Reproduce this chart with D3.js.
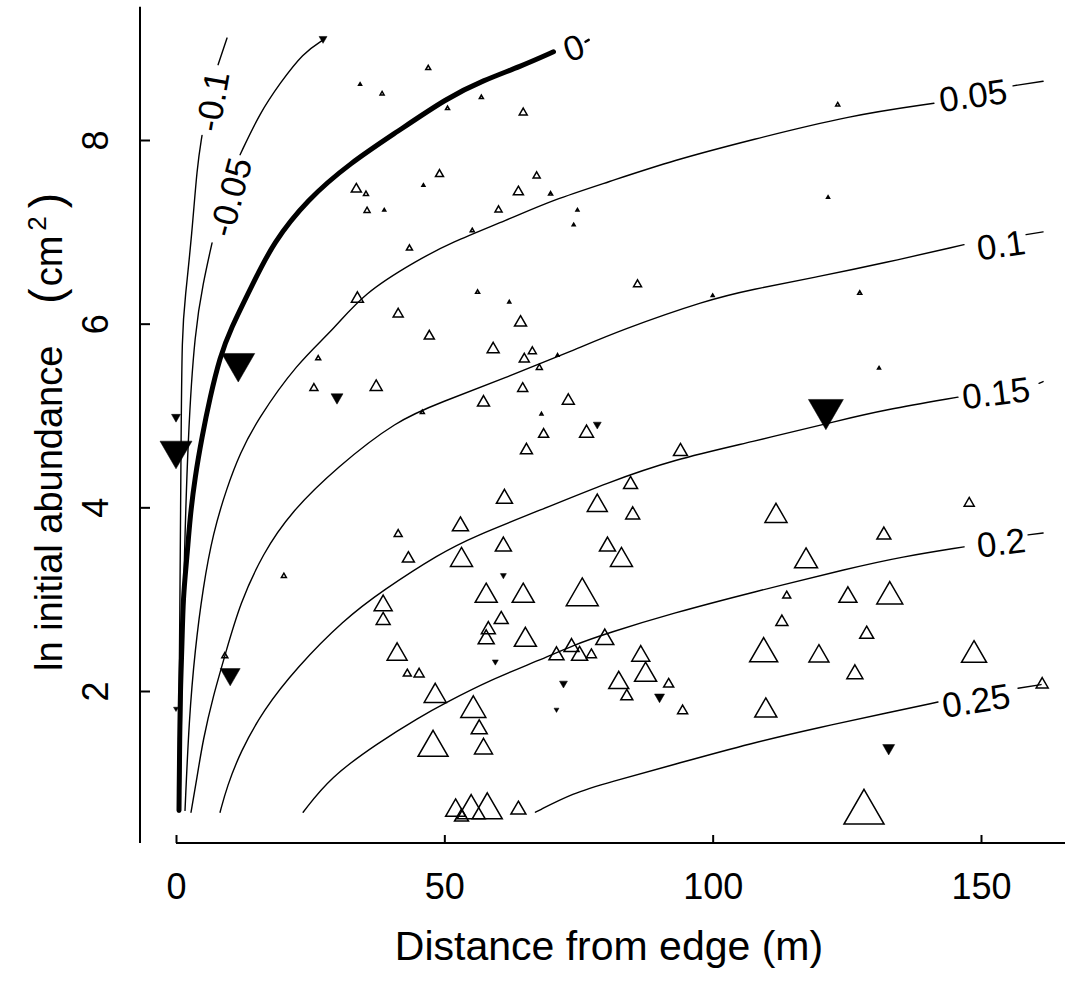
<!DOCTYPE html>
<html>
<head>
<meta charset="utf-8">
<script src="https://cdn.jsdelivr.net/npm/d3@7"></script>
<style>
  body { margin: 0; background: #fff; }
  text { font-family: "Liberation Sans", Arial, sans-serif; fill: #000; }
</style>
</head>
<body>
<div id="chart"></div>
<script>
// ---- data ----
const xTicks = [0, 50, 100, 150];
const yTicks = [2, 4, 6, 8];
const xLimit = [0, 166];      // x axis line runs from 0 to the right edge
const yLimit = [0.345, 9.45]; // y axis line extent

// contour lines of predicted growth rate, each a list of segments of [distance, ln abundance]
const contourLevels = ["-0.1", "-0.05", "0", "0.05", "0.1", "0.15", "0.2", "0.25"];
const contourMinus010 = [
  [[9.51, 9.11], [7.84, 8.82]],
  [[4.85, 8.05], [3.92, 7.71], [2.99, 6.99], [1.68, 6.26], [1.12, 5.93], [0.93, 4.63], [0.75, 3.00], [0.37, 0.70]]
];
const contourMinus005 = [
  [[27.43, 9.09], [23.69, 8.95], [19.40, 8.62], [15.67, 8.30], [11.94, 7.84]],
  [[6.72, 6.88], [5.04, 6.44], [3.54, 5.93], [2.24, 4.84], [1.31, 3.02], [0.75, 0.70]]
];
const contourZero = [
  [[0.56, 0.70], [0.75, 1.94], [1.12, 2.48], [1.31, 3.02], [2.05, 3.46], [2.61, 3.89], [3.54, 4.33],
   [4.85, 4.77], [6.34, 5.20], [8.21, 5.64], [10.07, 5.93], [14.37, 6.44], [18.10, 6.88], [24.44, 7.35],
   [32.46, 7.75], [41.23, 8.09], [50.56, 8.46], [57.28, 8.65], [64.18, 8.80], [70.34, 8.96]],
  [[76.3, 9.07], [76.9, 9.09]]
];
const contour005 = [
  [[155.97, 8.59], [161.57, 8.64]],
  [[141.23, 8.40], [125.75, 8.27], [107.09, 8.00], [92.72, 7.78], [80.41, 7.54], [70.34, 7.35],
   [61.75, 7.13], [51.12, 6.88], [44.96, 6.69], [34.89, 6.33], [29.29, 5.93], [22.57, 5.57],
   [15.11, 4.95], [11.94, 4.59], [9.51, 4.22], [6.90, 3.72], [5.04, 3.13], [3.54, 2.45], [2.43, 1.69], [1.68, 0.70]]
];
const contour010 = [
  [[158.40, 6.97], [161.57, 7.00]],
  [[146.83, 6.86], [131.90, 6.66], [119.59, 6.51], [107.09, 6.37], [99.07, 6.26], [82.84, 5.93],
   [74.07, 5.71], [61.75, 5.42], [49.25, 5.14], [41.23, 4.95], [30.04, 4.44], [21.27, 3.94],
   [16.23, 3.50], [11.94, 2.96], [9.14, 2.39], [6.90, 1.94], [5.04, 1.47], [3.92, 1.06], [2.80, 0.68]]
];
const contour015 = [
  [[160.82, 5.35], [161.57, 5.37]],
  [[145.71, 5.20], [131.90, 5.06], [123.88, 4.95], [107.09, 4.71], [92.72, 4.52], [80.41, 4.27],
   [67.91, 3.97], [55.41, 3.68], [49.25, 3.50], [38.62, 3.10], [31.16, 2.77], [22.57, 2.26],
   [16.23, 1.79], [11.94, 1.33], [9.51, 0.96], [8.21, 0.68]]
];
const contour020 = [
  [[158.77, 3.70], [161.57, 3.72]],
  [[146.83, 3.57], [135.07, 3.46], [125.75, 3.34], [107.09, 3.07], [92.72, 2.85], [80.41, 2.63],
   [74.07, 2.50], [67.91, 2.34], [58.58, 2.12], [50.19, 1.87], [45.52, 1.72], [37.50, 1.43],
   [28.73, 1.06], [23.69, 0.68]]
];
const contour025 = [
  [[156.90, 2.03], [161.19, 2.07]],
  [[141.98, 1.88], [133.21, 1.77], [119.59, 1.60], [107.09, 1.43], [94.03, 1.22], [80.41, 1.00],
   [74.07, 0.89], [66.98, 0.68]]
];
const contourLines = [contourMinus010, contourMinus005, contourZero, contour005,
                      contour010, contour015, contour020, contour025];
// where each contour label sits, [distance, ln abundance]
const labelAnchors = [[6.72, 8.42], [10.07, 7.38], [74.07, 9.01], [148.51, 8.49],
                      [153.73, 6.86], [152.80, 5.25], [153.73, 3.62], [149.07, 1.90]];

// plots: distance from edge (m), ln initial abundance, observed growth rate
// negative rates are drawn as filled down triangles, positive as open up triangles
const distance = [
  27.4, 11.6, 0.0, 0.0, 30.0, 10.1, 0.0, 78.5, 61.0, 59.5, 72.2, 90.1, 70.9, 121.1, 132.8,
  47.0, 34.3, 38.4, 50.6, 56.9, 64.7, 49.1, 46.1, 33.6, 35.4, 35.6, 38.8, 43.5, 67.2, 63.8,
  69.8, 60.1, 74.8, 74.1, 55.2, 86.0, 56.2, 62.1, 64.2, 33.8, 41.4, 100.0, 123.3, 121.5, 127.4,
  131.0, 26.5, 25.7, 37.3, 47.2, 45.9, 41.4, 43.3, 20.1, 38.6, 38.6, 41.2, 9.1, 43.1, 45.3,
  48.3, 47.9, 59.1, 66.4, 64.9, 71.1, 67.7, 64.6, 57.3, 73.1, 68.1, 68.5, 76.5, 65.3, 94.0,
  84.7, 61.2, 78.5, 85.1, 53.0, 61.0, 80.4, 53.2, 83.0, 57.8, 64.7, 75.7, 60.6, 58.2, 57.8,
  65.1, 70.9, 73.7, 75.2, 77.4, 79.9, 86.6, 87.5, 82.5, 84.0, 91.8, 94.4, 55.4, 56.5, 57.3,
  52.1, 53.2, 55.0, 58.0, 63.8, 111.8, 147.8, 131.9, 117.4, 113.8, 125.2, 133.0, 112.9, 128.7,
  109.5, 119.8, 148.7, 126.5, 109.9, 161.4, 128.2
];
const lnAbundance = [
  9.09, 5.52, 4.97, 4.57, 5.18, 2.15, 1.80, 4.89, 3.25, 2.31, 2.07, 1.92, 1.79, 5.01, 1.36,
  8.79, 8.61, 8.51, 8.35, 8.47, 8.31, 7.64, 7.51, 7.48, 7.42, 7.24, 7.24, 6.83, 7.62, 7.45,
  7.42, 7.25, 7.24, 7.08, 7.02, 6.44, 6.35, 6.24, 6.03, 6.29, 6.12, 6.31, 8.39, 7.38, 6.34,
  5.52, 5.63, 5.31, 5.33, 5.88, 5.04, 3.72, 3.46, 3.26, 2.96, 2.79, 2.43, 2.39, 2.20, 2.20,
  1.98, 1.43, 5.74, 5.71, 5.63, 5.66, 5.53, 5.31, 5.16, 5.18, 5.02, 4.81, 4.83, 4.64, 4.63,
  4.27, 4.12, 4.05, 3.94, 3.82, 3.60, 3.60, 3.46, 3.46, 3.07, 3.07, 3.08, 2.80, 2.69, 2.59,
  2.59, 2.41, 2.50, 2.41, 2.41, 2.59, 2.41, 2.21, 2.12, 1.96, 2.09, 1.80, 1.83, 1.61, 1.40,
  0.73, 0.65, 0.74, 0.75, 0.73, 3.94, 4.06, 3.72, 3.45, 3.05, 3.05, 3.07, 2.77, 2.64,
  2.45, 2.41, 2.43, 2.21, 1.82, 2.09, 0.74
];
const growthRate = [
  -0.053, -0.22, -0.06, -0.213, -0.08, -0.133, -0.033, -0.053, -0.04, -0.04, -0.053, -0.067, -0.033, -0.233, -0.08,
  0.033, 0.02, 0.027, 0.027, 0.027, 0.053, 0.053, 0.02, 0.067, 0.033, 0.04, 0.02, 0.04, 0.047, 0.067,
  0.027, 0.047, 0.02, 0.02, 0.027, 0.053, 0.027, 0.02, 0.08, 0.08, 0.067, 0.02, 0.027, 0.02, 0.027,
  0.02, 0.033, 0.053, 0.08, 0.067, 0.027, 0.053, 0.08, 0.033, 0.12, 0.093, 0.133, 0.04, 0.053, 0.067,
  0.147, 0.2, 0.08, 0.053, 0.067, 0.02, 0.04, 0.067, 0.08, 0.08, 0.02, 0.067, 0.093, 0.08, 0.093,
  0.093, 0.107, 0.133, 0.093, 0.107, 0.107, 0.107, 0.147, 0.147, 0.147, 0.147, 0.213, 0.093, 0.093, 0.107,
  0.147, 0.1, 0.1, 0.107, 0.067, 0.12, 0.12, 0.147, 0.133, 0.08, 0.067, 0.067, 0.167, 0.107, 0.12,
  0.133, 0.093, 0.187, 0.2, 0.1, 0.147, 0.067, 0.093, 0.153, 0.053, 0.12, 0.173, 0.08, 0.093,
  0.187, 0.133, 0.167, 0.107, 0.147, 0.08, 0.267
];

// ---- drawing ----
const width = 1065, height = 981;
const svg = d3.select("#chart").append("svg")
  .attr("width", width)
  .attr("height", height);

const x = d3.scaleLinear().domain([0, 150]).range([176, 981]);
const y = d3.scaleLinear().domain([2, 8]).range([691, 140]);
const markSize = d3.scaleLinear().domain([0, 0.3]).range([0, 45]); // side of triangle

const xAxisY = 843, yAxisX = 140;
const fontFamily = "'Liberation Sans', Arial, sans-serif";

// contour lines
const line = d3.line()
  .x(d => x(d[0]))
  .y(d => y(d[1]))
  .curve(d3.curveBasis);

contourLines.forEach((segs, i) => {
  segs.forEach((seg, j) => {
    const thick = contourLevels[i] === "0" && j === 0;
    svg.append("path")
      .attr("d", line(seg))
      .attr("fill", "none")
      .attr("stroke", "#000")
      .attr("stroke-width", thick ? 5 : (contourLevels[i] === "0" ? 2.5 : 1.4))
      .attr("stroke-linecap", "round");
  });
});

// contour labels
const labelAngle = [-80, -75, -20, -8, -8, -7, -7, -9];
svg.selectAll(".contour-label")
  .data(labelAnchors)
  .enter().append("text")
  .attr("class", "contour-label")
  .attr("transform", (d, i) => `translate(${x(d[0])},${y(d[1])}) rotate(${labelAngle[i]})`)
  .attr("text-anchor", "middle")
  .attr("dy", "0.36em")
  .style("font-size", "35px")
  .text((d, i) => contourLevels[i]);

// plots as triangles
function triangle(s, up) {
  const h = s * 0.866;
  return up
    ? `M0,${-h / 2}L${s / 2},${h / 2}L${-s / 2},${h / 2}Z`
    : `M0,${h / 2}L${s / 2},${-h / 2}L${-s / 2},${-h / 2}Z`;
}

const plots = distance.map((d, i) => ({ x: d, y: lnAbundance[i], r: growthRate[i] }));
svg.selectAll(".plot")
  .data(plots)
  .enter().append("path")
  .attr("class", "plot")
  .attr("transform", d => `translate(${x(d.x)},${y(d.y)})`)
  .attr("d", d => triangle(markSize(Math.abs(d.r)), d.r > 0))
  .attr("fill", d => d.r > 0 ? "none" : "#000")
  .attr("stroke", "#000")
  .attr("stroke-width", d => d.r > 0 ? 1.5 : 0.5)
  .attr("stroke-linejoin", "miter");

// x axis
const xAxis = svg.append("g")
  .attr("transform", `translate(0,${xAxisY})`)
  .call(d3.axisBottom(x).tickValues(xTicks).tickSizeInner(-8).tickSizeOuter(0).tickFormat(d3.format("d")));
xAxis.select(".domain").remove();
xAxis.append("line")
  .attr("x1", x(xLimit[0])).attr("x2", x(xLimit[1]))
  .attr("stroke", "#000").attr("stroke-width", 2);
xAxis.selectAll(".tick line").attr("stroke", "#000").attr("stroke-width", 2);
xAxis.selectAll(".tick text")
  .attr("y", 56).attr("dy", null)
  .style("font-size", "36px")
  .style("font-family", fontFamily)
  .style("fill", "#000");

// y axis
const yAxis = svg.append("g")
  .attr("transform", `translate(${yAxisX},0)`)
  .call(d3.axisLeft(y).tickValues(yTicks).tickSizeInner(-10).tickSizeOuter(0).tickFormat(d3.format("d")));
yAxis.select(".domain").remove();
yAxis.append("line")
  .attr("y1", y(yLimit[0])).attr("y2", y(yLimit[1]))
  .attr("stroke", "#000").attr("stroke-width", 2);
yAxis.selectAll(".tick line").attr("stroke", "#000").attr("stroke-width", 2);
yAxis.selectAll(".tick text")
  .attr("x", 0).attr("dy", null)
  .attr("transform", "translate(-32,0) rotate(-90)")
  .attr("text-anchor", "middle")
  .style("font-size", "36px")
  .style("font-family", fontFamily)
  .style("fill", "#000");

// axis titles
svg.append("text")
  .attr("x", 609)
  .attr("y", 960)
  .attr("text-anchor", "middle")
  .style("font-size", "41px")
  .text("Distance from edge (m)");

const yTitle = svg.append("text")
  .attr("transform", "translate(62,671) rotate(-90)")
  .style("font-size", "38px");
yTitle.append("tspan").text("ln initial abundance");
yTitle.append("tspan").attr("dx", 42).style("font-size", "46px").text("(");
yTitle.append("tspan").attr("dx", 2).text("cm");
yTitle.append("tspan").attr("dx", 5).attr("dy", -16).style("font-size", "26px").text("2");
yTitle.append("tspan").attr("dx", 8).attr("dy", 16).style("font-size", "46px").text(")");
</script>
</body>
</html>
